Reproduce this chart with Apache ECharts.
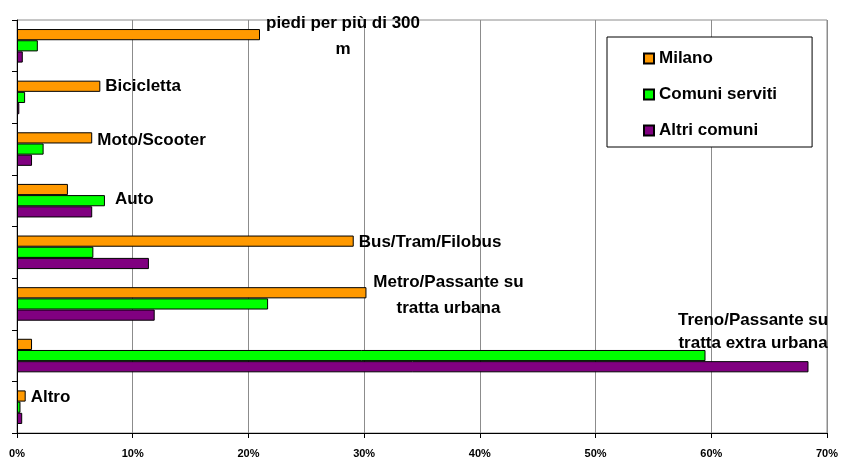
<!DOCTYPE html>
<html>
<head>
<meta charset="utf-8">
<script src="https://cdn.jsdelivr.net/npm/echarts@6/dist/echarts.min.js"></script>
<style>
  html, body { margin: 0; padding: 0; background: #fff; }
  #chart { width: 844px; height: 461px; }
</style>
</head>
<body>
<div id="chart"></div>
<script>
// data (percent), categories listed top to bottom
var categories = ['piedi per più di 300\nm', 'Bicicletta', 'Moto/Scooter', 'Auto', 'Bus/Tram/Filobus',
  'Metro/Passante su\ntratta urbana', 'Treno/Passante su\ntratta extra urbana', 'Altro'];
var seriesNames = ['Milano', 'Comuni serviti', 'Altri comuni'];
var milano = [21.0, 7.2, 6.5, 4.4, 29.1, 30.2, 1.3, 0.75];
var comuniServiti = [1.8, 0.7, 2.3, 7.6, 6.6, 21.7, 59.5, 0.3];
var altriComuni = [0.5, 0.2, 1.3, 6.5, 11.4, 11.9, 68.4, 0.45];

// where each category name sits, relative to the end of its Milano bar
var labelPlace = [
  { align: 'center', dx: 83, dy: 1.5, lh: 26 },
  { align: 'left', dx: 5, dy: 0 },
  { align: 'left', dx: 5, dy: 2 },
  { align: 'left', dx: 47, dy: 10 },
  { align: 'left', dx: 5, dy: 1.5 },
  { align: 'center', dx: 82, dy: 2.3, lh: 26 },
  { align: 'center', dx: 721, dy: -12.6, lh: 23 },
  { align: 'left', dx: 5, dy: 1 }
];

var font = '"Liberation Sans", Arial, sans-serif';

var milanoData = milano.map(function (v, i) {
  var p = labelPlace[i];
  return {
    value: v,
    label: {
      show: true,
      position: ['100%', '50%'],
      align: p.align,
      verticalAlign: 'middle',
      offset: [p.dx, p.dy],
      lineHeight: p.lh || 20,
      formatter: '{b}',
      color: '#000',
      fontSize: 17,
      fontWeight: 'bold',
      fontFamily: font
    }
  };
});

function barSeries(name, data, color) {
  return {
    name: name,
    type: 'bar',
    data: data,
    barGap: '0%',
    barCategoryGap: '35%',
    itemStyle: { color: color, borderColor: '#000', borderWidth: 1 }
  };
}

var chart = echarts.init(document.getElementById('chart'));
chart.setOption({
  animation: false,
  backgroundColor: '#fff',
  grid: {
    left: 17, right: 17, top: 20, bottom: 28,
    show: true, borderColor: '#8c8c8c', borderWidth: 1
  },
  legend: {
    orient: 'vertical',
    left: 607, top: 37,
    padding: [13, 35, 8, 36],
    itemGap: 19,
    itemWidth: 10, itemHeight: 10,
    icon: 'rect',
    borderColor: '#000', borderWidth: 1,
    backgroundColor: '#fff',
    textStyle: { color: '#000', fontSize: 17, fontWeight: 'bold', fontFamily: font, lineHeight: 17 },
    data: seriesNames
  },
  xAxis: {
    type: 'value',
    min: 0, max: 70, interval: 10,
    axisLine: { show: true, lineStyle: { color: '#000', width: 1 } },
    axisTick: { show: true, length: 5, lineStyle: { color: '#000' } },
    axisLabel: { formatter: '{value}%', color: '#000', fontSize: 11, fontWeight: 'bold', fontFamily: font, margin: 15 },
    splitLine: { show: true, lineStyle: { color: '#8c8c8c', width: 1 } }
  },
  yAxis: {
    type: 'category',
    inverse: true,
    data: categories,
    axisLine: { show: true, lineStyle: { color: '#000', width: 1 } },
    axisTick: { show: true, length: 5, lineStyle: { color: '#000' } },
    axisLabel: { show: false },
    splitLine: { show: false }
  },
  series: [
    barSeries(seriesNames[0], milanoData, '#FF9900'),
    barSeries(seriesNames[1], comuniServiti, '#00FF00'),
    barSeries(seriesNames[2], altriComuni, '#800080')
  ]
});
</script>
</body>
</html>
